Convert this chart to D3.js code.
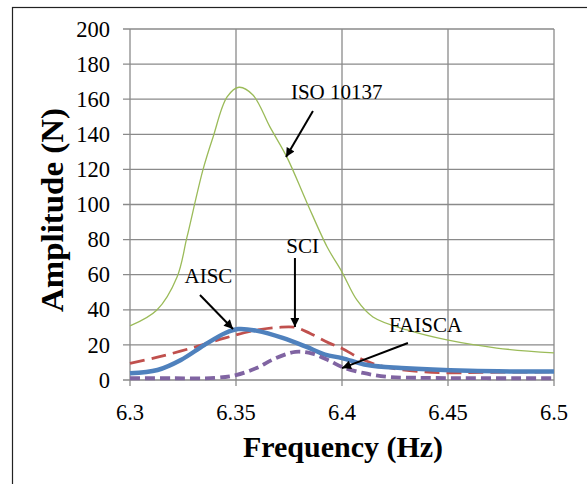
<!DOCTYPE html>
<html>
<head>
<meta charset="utf-8">
<script src="https://cdn.jsdelivr.net/npm/d3@7"></script>
<style>
  html, body { margin: 0; padding: 0; background: #fff; }
  svg { display: block; }
</style>
</head>
<body>
<script>
// ---- Data ----
const xTicks = [6.3, 6.35, 6.4, 6.45, 6.5];
const xTickLabels = ["6.3", "6.35", "6.4", "6.45", "6.5"];
const yTicks = [0, 20, 40, 60, 80, 100, 120, 140, 160, 180, 200];

const isoFreq = [6.300, 6.3127, 6.3222, 6.3269, 6.3344, 6.3392, 6.3458, 6.3514, 6.358, 6.366, 6.374, 6.3835, 6.393, 6.400, 6.407, 6.4146, 6.4307, 6.4495, 6.473, 6.500];
const isoAmp  = [30.8, 39.9, 58.7, 81.5, 119.7, 138.5, 161.3, 166.8, 162.4, 144.2, 127.0, 100.9, 75.8, 61.5, 45.6, 35.9, 28.5, 22.8, 18.2, 15.4];

const aiscFreq = [6.300, 6.313, 6.324, 6.335, 6.345, 6.351, 6.360, 6.372, 6.383, 6.392, 6.400, 6.412, 6.428, 6.460, 6.500];
const aiscAmp  = [3.8, 5.7, 11.4, 19.9, 26.8, 29.0, 28.0, 24.0, 19.0, 14.5, 12.5, 8.5, 6.8, 5.2, 4.8];

const sciFreq = [6.300, 6.313, 6.329, 6.345, 6.360, 6.370, 6.378, 6.385, 6.394, 6.400, 6.410, 6.422, 6.446, 6.470, 6.500];
const sciAmp  = [9.5, 13.0, 18.2, 24.0, 28.5, 30.0, 30.0, 26.5, 21.0, 18.0, 11.5, 7.0, 4.2, 4.4, 4.6];

const faiscaFreq = [6.300, 6.320, 6.340, 6.350, 6.360, 6.368, 6.378, 6.386, 6.394, 6.400, 6.410, 6.422, 6.440, 6.500];
const faiscaAmp  = [1.0, 1.0, 1.2, 2.8, 7.0, 12.0, 16.0, 15.0, 11.0, 7.4, 4.0, 1.8, 1.2, 1.0];

// annotations (data units): label, text x, text baseline y, arrow start, arrow end
const annLabels = ["ISO 10137", "SCI", "AISC", "FAISCA"];
const annTextX  = [6.3759, 6.3814, 6.337, 6.4394];
const annTextY  = [160.1, 72.4, 55.3, 27.4];
const annAnchor = ["start", "middle", "middle", "middle"];
const annFromX  = [6.3863, 6.3778, 6.333, 6.4311];
const annFromY  = [153.3, 69.5, 48.4, 21.1];
const annToX    = [6.3736, 6.3778, 6.3486, 6.400];
const annToY    = [127.1, 30.2, 29.1, 6.8];

// ---- Layout ----
const FONT = "'Liberation Serif', Tinos, 'Times New Roman', Times, 'DejaVu Serif', serif";
const W = 587, H = 484;
const plot = { left: 130, right: 554, top: 29, bottom: 380 };

const svg = d3.select("body").append("svg").attr("width", W).attr("height", H)
  .attr("font-family", FONT);

// outer frame (extends past the viewport on right/bottom)
svg.append("rect").attr("x", 12.5).attr("y", 7.5).attr("width", 700).attr("height", 700)
  .attr("fill", "none").attr("stroke", "#222").attr("stroke-width", 1.2);

const x = d3.scaleLinear().domain([6.3, 6.5]).range([plot.left, plot.right]);
const y = d3.scaleLinear().domain([0, 200]).range([plot.bottom, plot.top]);

const gridColor = "#8a8a8a";

// horizontal gridlines
svg.append("g").selectAll("line").data(yTicks).join("line")
  .attr("x1", plot.left - 7).attr("x2", plot.right)
  .attr("y1", d => y(d)).attr("y2", d => y(d))
  .attr("stroke", gridColor).attr("stroke-width", 1.3);

// vertical gridlines
svg.append("g").selectAll("line").data(xTicks).join("line")
  .attr("x1", d => x(d)).attr("x2", d => x(d))
  .attr("y1", plot.top).attr("y2", plot.bottom + 6)
  .attr("stroke", gridColor).attr("stroke-width", 1.3);

// y tick labels
svg.append("g").selectAll("text").data(yTicks).join("text")
  .attr("font-family", FONT)
  .attr("x", 110).attr("y", d => y(d)).attr("dy", "0.34em")
  .attr("text-anchor", "end").attr("font-size", 22.5)
  .text(d => d);

// x tick labels
svg.append("g").selectAll("text").data(xTicks).join("text")
  .attr("font-family", FONT)
  .attr("x", d => x(d)).attr("y", 420)
  .attr("text-anchor", "middle").attr("font-size", 22.5)
  .text((d, i) => xTickLabels[i]);

// axis titles
svg.append("text").attr("x", 343).attr("y", 457)
  .attr("font-family", FONT)
  .attr("text-anchor", "middle").attr("font-size", 30).attr("font-weight", "bold")
  .text("Frequency (Hz)");
svg.append("text").attr("transform", "translate(63,210) rotate(-90)")
  .attr("font-family", FONT)
  .attr("text-anchor", "middle").attr("font-size", 31).attr("font-weight", "bold")
  .attr("textLength", 204).attr("lengthAdjust", "spacingAndGlyphs")
  .text("Amplitude (N)");

// series
const line = d3.line().x(d => x(d[0])).y(d => y(d[1])).curve(d3.curveCatmullRom.alpha(0.5));
const zip = (a, b) => a.map((v, i) => [v, b[i]]);

const series = [
  { data: zip(isoFreq, isoAmp), color: "#9BBB59", width: 1.3, dash: null },
  { data: zip(sciFreq, sciAmp), color: "#C0504D", width: 2.8, dash: "15,7" },
  { data: zip(aiscFreq, aiscAmp), color: "#4F81BD", width: 4.5, dash: null },
  { data: zip(faiscaFreq, faiscaAmp), color: "#8064A2", width: 3.8, dash: "10,5" }
];
svg.append("g").selectAll("path").data(series).join("path")
  .attr("d", d => line(d.data))
  .attr("fill", "none")
  .attr("stroke", d => d.color)
  .attr("stroke-width", d => d.width)
  .attr("stroke-dasharray", d => d.dash);

// annotations
svg.append("defs").append("marker")
  .attr("id", "arrow").attr("viewBox", "0 0 10 10")
  .attr("refX", 10).attr("refY", 5)
  .attr("markerWidth", 5.5).attr("markerHeight", 4.5)
  .attr("markerUnits", "strokeWidth")
  .attr("orient", "auto")
  .append("path").attr("d", "M0,0 L10,5 L0,10 Z").attr("fill", "#000");

const ann = svg.append("g");
annLabels.forEach((lab, i) => {
  ann.append("text").attr("x", x(annTextX[i])).attr("y", y(annTextY[i]))
    .attr("font-family", FONT)
    .attr("text-anchor", annAnchor[i]).attr("font-size", 21).text(lab);
  ann.append("line")
    .attr("x1", x(annFromX[i])).attr("y1", y(annFromY[i]))
    .attr("x2", x(annToX[i])).attr("y2", y(annToY[i]))
    .attr("stroke", "#000").attr("stroke-width", 2)
    .attr("marker-end", "url(#arrow)");
});
</script>
</body>
</html>
